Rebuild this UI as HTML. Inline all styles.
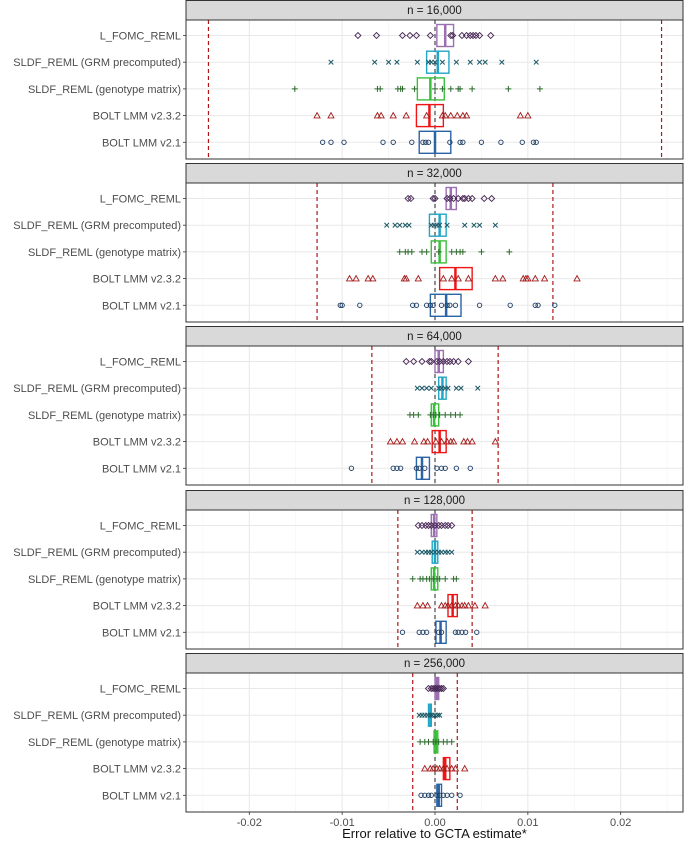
<!DOCTYPE html>
<html><head><meta charset="utf-8"><style>
html,body{margin:0;padding:0;background:#fff}
svg{display:block;font-family:"Liberation Sans",Arial,sans-serif}
</style></head><body>
<svg id="chart" width="685" height="841" viewBox="0 0 685 841" xmlns="http://www.w3.org/2000/svg"></svg>
<script>
const facetLabels = ["n = 16,000","n = 32,000","n = 64,000","n = 128,000","n = 256,000"];
const methods = ["L_FOMC_REML","SLDF_REML (GRM precomputed)","SLDF_REML (genotype matrix)","BOLT LMM v2.3.2","BOLT LMM v2.1"];
const xTicks = [-0.02,-0.01,0,0.01,0.02];
const xTickLabels = ["-0.02","-0.01","0.00","0.01","0.02"];
const thresholds = [0.0244,0.0127,0.0068,0.004,0.0024];
// points[facet][method]
const points16k = [
 [-0.0083,-0.0063,-0.0035,-0.0027,-0.002,-0.0005,0.0017,0.0019,0.0029,0.0034,0.0038,0.0041,0.0044,0.0048,0.006],
 [-0.0112,-0.0065,-0.005,-0.0041,-0.0019,-0.0007,-0.0004,0,0.0008,0.0023,0.0038,0.0048,0.0054,0.0072,0.0109],
 [-0.0151,-0.0062,-0.0059,-0.004,-0.0037,-0.0035,-0.0022,0,0.0008,0.0017,0.0025,0.0027,0.004,0.0079,0.0113],
 [-0.0127,-0.0112,-0.0062,-0.0058,-0.0045,-0.0031,-0.0009,0.0008,0.0011,0.0017,0.0024,0.003,0.0034,0.0092,0.01],
 [-0.0121,-0.0112,-0.0098,-0.0056,-0.0045,-0.0025,-0.0013,-0.001,-0.0007,0.0016,0.0027,0.003,0.005,0.0071,0.0094,0.0106,0.0109]];
const points32k = [
 [-0.0029,-0.0026,-0.0002,0,0.0013,0.0016,0.002,0.0025,0.003,0.0032,0.0036,0.004,0.0053,0.0061],
 [-0.0052,-0.0043,-0.0038,-0.0032,-0.0028,-0.0004,-0.0001,0.0002,0.0005,0.0013,0.0032,0.0042,0.0048,0.0065],
 [-0.0038,-0.0032,-0.0029,-0.0025,-0.0014,-0.0009,0.0004,0.0018,0.0023,0.0027,0.003,0.005,0.008],
 [-0.0092,-0.0085,-0.0072,-0.0067,-0.0033,-0.0031,-0.0018,0.0009,0.0018,0.0025,0.0036,0.0065,0.0073,0.0095,0.0098,0.01,0.0108,0.0118,0.0153],
 [-0.0102,-0.01,-0.0081,-0.0024,-0.002,-0.0009,-0.0005,-0.0002,0.0007,0.0013,0.0016,0.0022,0.0048,0.0081,0.0108,0.0111,0.0129]];
const points64k = [
 [-0.0031,-0.0023,-0.0014,-0.0006,-0.0004,0.0002,0.0005,0.0009,0.0013,0.0016,0.002,0.0025,0.0036],
 [-0.0019,-0.0014,-0.0009,-0.0004,0.0004,0.0007,0.0011,0.0014,0.0023,0.0028,0.0046],
 [-0.0027,-0.0023,-0.0018,-0.0005,-0.0002,0.0001,0.0005,0.0011,0.0017,0.0022,0.0027],
 [-0.0048,-0.0041,-0.0035,-0.0022,-0.0012,-0.0008,0.0001,0.0007,0.0013,0.0017,0.002,0.0031,0.0035,0.004,0.0065],
 [-0.009,-0.0045,-0.0041,-0.0037,-0.002,-0.0017,-0.0011,0.0002,0.0007,0.0011,0.0023,0.0038]];
const points128k = [
 [-0.0018,-0.0014,-0.001,-0.0007,-0.0004,0,0.0004,0.0007,0.0011,0.0014,0.0018],
 [-0.0019,-0.0014,-0.001,-0.0007,-0.0004,0,0.0004,0.0007,0.0011,0.0014,0.0018],
 [-0.0024,-0.0016,-0.0013,-0.0009,-0.0006,-0.0002,0.0002,0.0005,0.0011,0.002,0.0023],
 [-0.0019,-0.0013,-0.0008,0.0007,0.0011,0.0014,0.0018,0.0022,0.0025,0.0029,0.0032,0.0036,0.0043,0.0054],
 [-0.0035,-0.0017,-0.0013,-0.0009,0.0004,0.0007,0.0022,0.0025,0.0029,0.0033,0.0045]];
const points256k = [
 [-0.0007,-0.0004,-0.0002,0,0.0001,0.0003,0.0005,0.0007,0.0009],
 [-0.0017,-0.0014,-0.0011,-0.0008,-0.0005,-0.0003,0,0.0003,0.0005],
 [-0.0016,-0.0011,-0.0007,-0.0002,0.0001,0.0004,0.0009,0.0013,0.0018],
 [-0.0011,-0.0005,-0.0002,0.0002,0.0005,0.0009,0.0013,0.0018,0.0022,0.0032],
 [-0.0015,-0.0011,-0.0007,-0.0004,0.0002,0.0005,0.0009,0.0013,0.0018,0.0027]];
const allPoints = [points16k,points32k,points64k,points128k,points256k];
// box stats [q1, median, q3] per facet per method
const boxQ1 = [[0.0002,-0.0009,-0.0019,-0.002,-0.0017],[0.0012,-0.0006,-0.0004,0.0005,-0.0005],[0,0.0004,-0.0004,-0.0003,-0.002],[-0.0004,-0.0003,-0.0004,0.0014,0.0001],[0,-0.0007,-0.0001,0.0009,0.0002]];
const boxMed = [[0.0011,0.0003,-0.0005,-0.0006,0],[0.0017,0.0005,0.0005,0.0022,0.0012],[0.0004,0.0008,-0.0001,0.0005,-0.0014],[-0.0001,0,-0.0001,0.0019,0.0006],[0.0002,-0.0005,0.0001,0.0011,0.0004]];
const boxQ3 = [[0.002,0.0015,0.001,0.0009,0.0017],[0.0023,0.0012,0.0012,0.004,0.0028],[0.0009,0.0012,0.0004,0.0012,-0.0006],[0.0002,0.0003,0.0003,0.0024,0.0012],[0.0004,-0.0004,0.0003,0.0016,0.0007]];

const boxColors = ["#9b6fb0","#22a6c6","#3cbf3c","#f01414","#2a63a6"];
const ptColors = ["#4a2a58","#1b5866","#2c6a2c","#a51c1c","#1f3f66"];
const shapes = ["diamond","x","plus","triangle","circle"];

const svg = document.getElementById('chart');
const NS = "http://www.w3.org/2000/svg";
function mk(tag, attrs, parent){const e=document.createElementNS(NS,tag);for(const k in attrs)e.setAttribute(k,attrs[k]);(parent||svg).appendChild(e);return e;}
const PL=186, PR=683, X0=435, SCALE=9285;
function xs(v){return X0+v*SCALE;}
const facetTop=[0,163,326,490,653];
const STRIP=19.5, PH=139;
function ys(facetIdx, m){return facetTop[facetIdx]+STRIP+16+m*26.7;}

for(let f=0;f<5;f++){
  const g=mk('g',{});
  
  
  const t=facetTop[f];
  const strip=mk('rect',{x:PL,y:t+0.5,width:PR-PL,height:STRIP,fill:"#d9d9d9",stroke:"#333",'stroke-width':1},g);
  
  
  const st=mk('text',{x:(PL+PR)/2,y:t+14,'text-anchor':'middle','font-size':11.5,fill:'#1a1a1a'},g);
  st.textContent=facetLabels[f];
  
  
  const py=t+STRIP+0.5;
  mk('rect',{x:PL,y:py,width:PR-PL,height:PH,fill:'#fff'},g);
  // minor grid
  for(let v=-0.025;v<=0.0251;v+=0.01){mk('line',{x1:xs(v),x2:xs(v),y1:py,y2:py+PH,stroke:'#f2f2f2','stroke-width':0.6},g);}
  for(const v of xTicks){mk('line',{x1:xs(v),x2:xs(v),y1:py,y2:py+PH,stroke:'#e8e8e8','stroke-width':1},g);}
  for(let m=0;m<5;m++){mk('line',{x1:PL,x2:PR,y1:ys(f,m),y2:ys(f,m),stroke:'#e8e8e8','stroke-width':1},g);}
  // threshold lines
  for(const s of [-1,1]){
    const l=mk('line',{x1:xs(s*thresholds[f]),x2:xs(s*thresholds[f]),y1:py,y2:py+PH,stroke:'#b01818','stroke-width':1.2,'stroke-dasharray':'4,3'},g);
    
    
  }
  const zl=mk('line',{x1:xs(0),x2:xs(0),y1:py,y2:py+PH,stroke:'#222','stroke-width':1,'stroke-dasharray':'4,3'},g);
  
  
  for(let m=0;m<5;m++){
    const y=ys(f,m);
    // box
    const b=mk('rect',{x:xs(boxQ1[f][m]),y:y-11,width:Math.max(xs(boxQ3[f][m])-xs(boxQ1[f][m]),1.5),height:22,fill:'none',stroke:boxColors[m],'stroke-width':1.4},g);
    
    
    const md=mk('line',{x1:xs(boxMed[f][m]),x2:xs(boxMed[f][m]),y1:y-11,y2:y+11,stroke:boxColors[m],'stroke-width':2.5},g);
    
    
    const c=ptColors[m];
    for(const v of allPoints[f][m]){
      const x=xs(v);let p;
      if(shapes[m]==='diamond') p=mk('path',{d:`M${x},${y-3} L${x+3},${y} L${x},${y+3} L${x-3},${y} Z`,fill:'none',stroke:c,'stroke-width':0.9},g);
      else if(shapes[m]==='x') p=mk('path',{d:`M${x-2.3},${y-2.3} L${x+2.3},${y+2.3} M${x-2.3},${y+2.3} L${x+2.3},${y-2.3}`,stroke:c,'stroke-width':1},g);
      else if(shapes[m]==='plus') p=mk('path',{d:`M${x-3},${y} L${x+3},${y} M${x},${y-3} L${x},${y+3}`,stroke:c,'stroke-width':1},g);
      else if(shapes[m]==='triangle') p=mk('path',{d:`M${x},${y-3} L${x+3},${y+2.3} L${x-3},${y+2.3} Z`,fill:'none',stroke:c,'stroke-width':0.9},g);
      else p=mk('circle',{cx:x,cy:y,r:2.2,fill:'none',stroke:c,'stroke-width':0.9},g);
      
      
    }
    mk('line',{x1:PL-3,x2:PL,y1:y,y2:y,stroke:'#333','stroke-width':0.8},g);
    const lb=mk('text',{x:PL-5,y:y+4,'text-anchor':'end','font-size':11,fill:'#4d4d4d'},g);
    lb.textContent=methods[m];
    
    
  }
  mk('rect',{x:PL,y:py,width:PR-PL,height:PH,fill:'none',stroke:'#333','stroke-width':1},g);
}
const bottom=facetTop[4]+STRIP+0.5+PH;
for(let i=0;i<xTicks.length;i++){
  mk('line',{x1:xs(xTicks[i]),x2:xs(xTicks[i]),y1:bottom,y2:bottom+3,stroke:'#333','stroke-width':0.8});
  const tl=mk('text',{x:xs(xTicks[i]),y:bottom+14,'text-anchor':'middle','font-size':11,fill:'#4d4d4d'});
  tl.textContent=xTickLabels[i];
  
  
}
const xt=mk('text',{x:(PL+PR)/2,y:838,'text-anchor':'middle','font-size':13,fill:'#111'});
xt.textContent="Error relative to GCTA estimate*";


</script>
</body></html>
